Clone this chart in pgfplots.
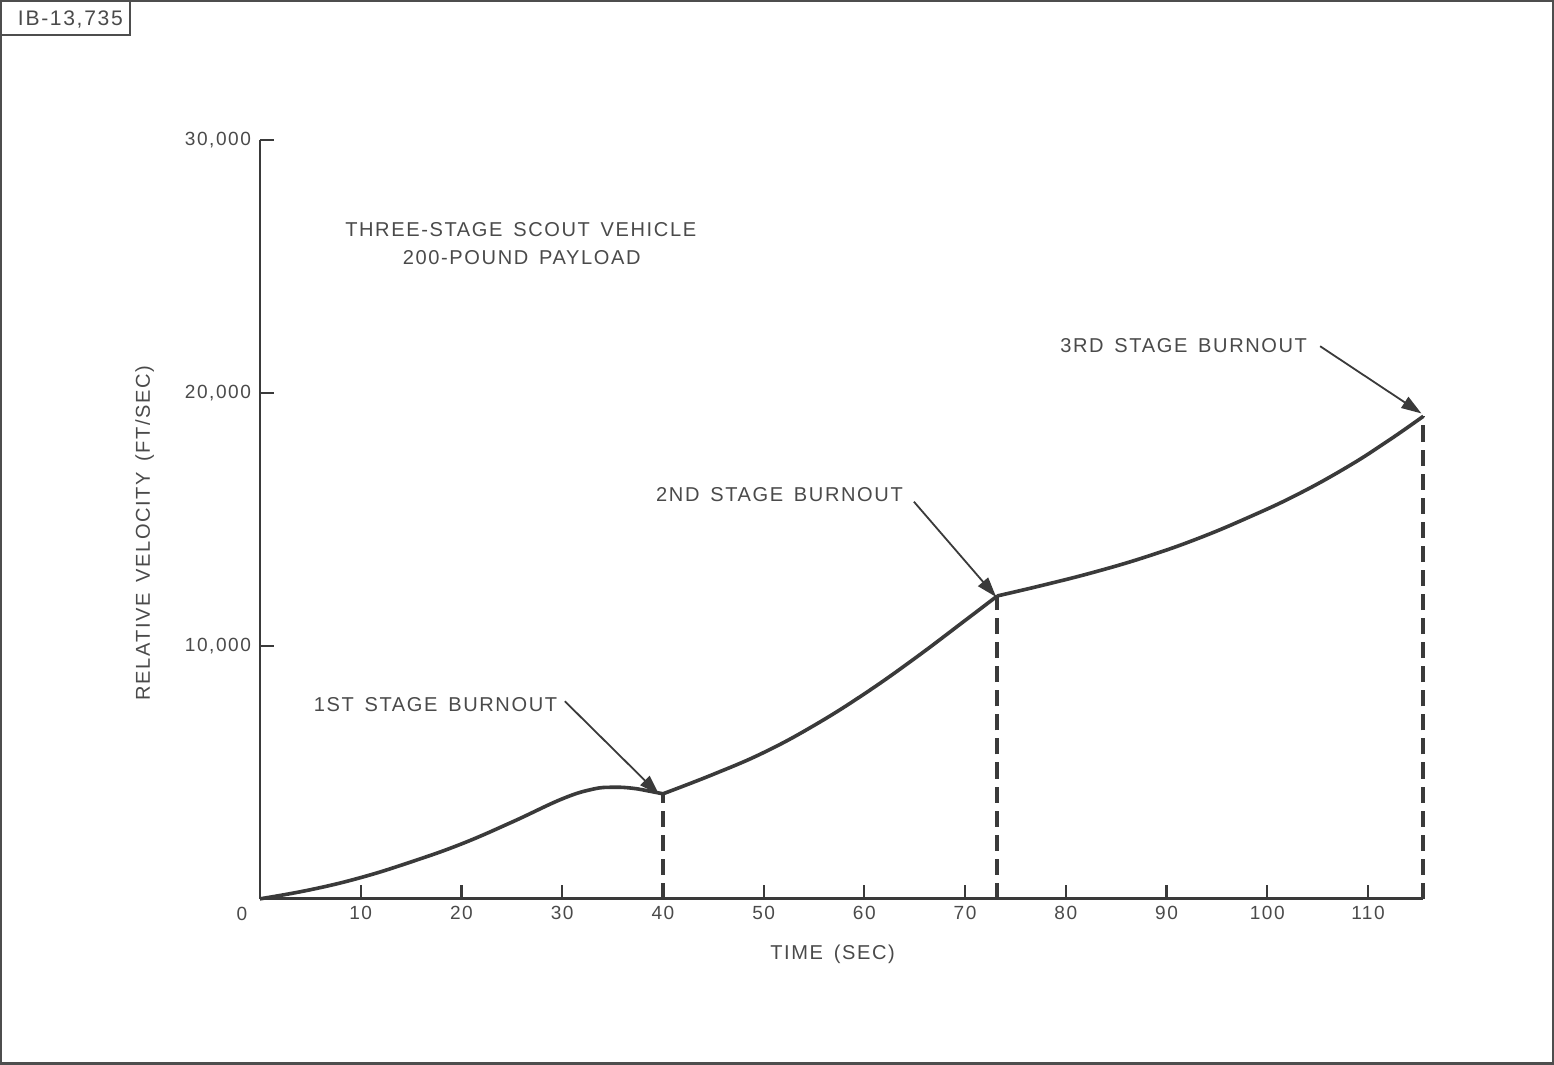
\documentclass[border=0pt]{standalone}
\usepackage{fontspec}
\setmainfont{Liberation Sans}[LetterSpace=8, WordSpace=1.5]
\usepackage{pgfplots}
\pgfplotsset{compat=1.18}
\usetikzlibrary{arrows.meta}
\definecolor{ink}{HTML}{3A3A3A}
\definecolor{txt}{HTML}{4A4A4A}
\begin{document}
\begin{tikzpicture}
\begin{axis}[
  at={(0pt,0pt)}, anchor=origin,
  scale only axis, width=580pt, height=378.5pt,
  xmin=0, xmax=115.5, ymin=0, ymax=30000,
  axis x line=bottom, axis y line=left,
  axis line style={-, ink, line width=1.4pt},
  tick align=inside,
  major tick length=7pt,
  tick style={ink, line width=1.1pt},
  scaled y ticks=false, scaled x ticks=false,
  xtick={10,20,30,40,50,60,70,80,90,100,110},
  xticklabels={10,20,30,40,50,60,70,80,90,100,110},
  ytick={10000,20000,30000},
  yticklabels={{10,000},{20,000},{30,000}},
  ticklabel style={font=\fontsize{9.5}{11}\selectfont, text=txt},
  xticklabel style={yshift=0pt},
  yticklabel style={xshift=-1pt},
  clip=false,
]
\addplot[ink, line width=1.8pt, smooth, tension=0.7] coordinates {
 (0,0) (5,360) (10,840) (15,1460) (20,2170) (25,3030) (30,3950) (33,4330) (35,4410) (37,4370) (39,4230) (40,4150)};
\addplot[ink, line width=1.8pt, smooth, tension=0.7] coordinates {
 (40,4150) (45,4920) (50,5780) (55,6850) (60,8100) (65,9500) (70,11000) (73.2,11970)};
\addplot[ink, line width=1.8pt, smooth, tension=0.7] coordinates {
 (73.2,11970) (78,12420) (83,12930) (88,13520) (93,14220) (98,15050) (103,15980) (108,17080) (112,18100) (115.5,19070)};
\addplot[ink, line width=2pt, dash pattern=on 8pt off 4pt] coordinates {(40,0) (40,4150)};
\addplot[ink, line width=2pt, dash pattern=on 8pt off 4pt] coordinates {(73.2,0) (73.2,11970)};
\addplot[ink, line width=2pt, dash pattern=on 8pt off 4pt] coordinates {(115.5,0) (115.5,19070)};
\end{axis}
% frame and label box
\draw[ink!90, line width=1.2pt] (-129pt,-82pt) rectangle (644.5pt,447.5pt);
\draw[ink!90, line width=1pt] (-129pt,430.5pt) -- (-65pt,430.5pt) -- (-65pt,447.5pt);
\node[text=txt, font=\fontsize{10.5}{12}\selectfont] at (-94.5pt,438.5pt) {IB-13,735};
% texts
\node[text=txt, font=\fontsize{10}{12}\selectfont] at (130pt,333.5pt) {THREE-STAGE SCOUT VEHICLE};
\node[text=txt, font=\fontsize{10}{12}\selectfont] at (130.5pt,319.5pt) {200-POUND PAYLOAD};
\node[text=txt, font=\fontsize{10}{12}\selectfont] at (460.5pt,276pt) {3RD STAGE BURNOUT};
\node[text=txt, font=\fontsize{10}{12}\selectfont] at (259pt,201.5pt) {2ND STAGE BURNOUT};
\node[text=txt, font=\fontsize{10}{12}\selectfont] at (87.5pt,97pt) {1ST STAGE BURNOUT};
\node[text=txt, font=\fontsize{10}{12}\selectfont, rotate=90] at (-57.5pt,182.5pt) {RELATIVE VELOCITY (FT/SEC)};
\node[text=txt, font=\fontsize{10}{12}\selectfont] at (285.5pt,-27.5pt) {TIME (SEC)};
\node[text=txt, font=\fontsize{9.5}{11}\selectfont] at (-9pt,-7.5pt) {0};
% arrows
\draw[ink, line width=0.9pt, -{Triangle[length=10pt,width=6.5pt]}] (528.5pt,275.5pt) -- (579pt,242pt);
\draw[ink, line width=0.9pt, -{Triangle[length=10pt,width=6.5pt]}] (326pt,198pt) -- (367pt,150.5pt);
\draw[ink, line width=0.9pt, -{Triangle[length=10pt,width=6.5pt]}] (152pt,98.5pt) -- (199pt,52pt);
\end{tikzpicture}
\end{document}
